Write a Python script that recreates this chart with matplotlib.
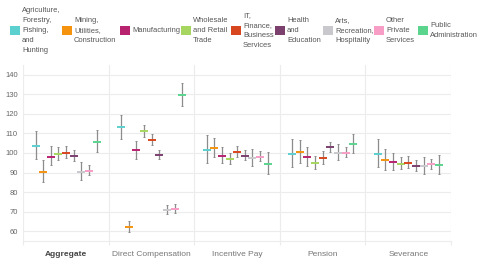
import matplotlib
matplotlib.use("Agg")
import matplotlib.pyplot as plt
from matplotlib.patches import Rectangle
import numpy as np

plt.rcParams['font.family'] = ['Liberation Sans', 'DejaVu Sans']

groups = ["Aggregate", "Direct Compensation", "Incentive Pay", "Pension", "Severance"]
series = ["Agriculture,\nForestry,\nFishing,\nand\nHunting",
          "Mining,\nUtilities,\nConstruction",
          "Manufacturing",
          "Wholesale\nand Retail\nTrade",
          "IT,\nFinance,\nBusiness\nServices",
          "Health\nand\nEducation",
          "Arts,\nRecreation,\nHospitality",
          "Other\nPrivate\nServices",
          "Public\nAdministration"]
colors = ["#5ccfcf", "#f5930f", "#b8236f", "#a6d65f", "#d8461f",
          "#7c406f", "#c9c9cd", "#f89dc6", "#5bd48e"]

# values[series][group]
values = [
    [103.6, 113.1, 101.7, 99.7, 99.7],
    [90.3, 62.1, 102.6, 100.4, 96.5],
    [98.2, 101.4, 98.7, 97.7, 95.3],
    [99.4, 111.1, 96.8, 94.8, 94.6],
    [99.9, 106.7, 100.5, 97.5, 95.1],
    [98.5, 98.8, 98.5, 102.9, 93.4],
    [90.5, 70.8, 97.3, 100.0, 93.2],
    [91.0, 71.5, 98.0, 100.2, 94.3],
    [105.6, 129.6, 94.4, 104.6, 93.7],
]
upper = [
    [111.3, 119.6, 109.0, 107.2, 107.2],
    [96.6, 65.2, 107.9, 106.5, 102.1],
    [103.4, 106.0, 103.1, 102.9, 100.1],
    [102.9, 114.5, 100.1, 98.5, 98.0],
    [103.6, 109.6, 103.8, 101.2, 98.5],
    [101.7, 101.7, 101.6, 105.8, 96.5],
    [95.3, 73.5, 102.1, 104.6, 98.0],
    [94.1, 73.7, 100.9, 103.1, 97.1],
    [111.6, 135.8, 100.4, 109.9, 99.2],
]
lower = [
    [97.0, 107.3, 94.9, 92.9, 92.9],
    [85.1, 59.7, 97.8, 94.8, 91.4],
    [93.9, 97.1, 94.8, 93.1, 91.2],
    [96.3, 108.2, 94.3, 91.9, 91.7],
    [97.3, 104.3, 97.8, 94.6, 92.2],
    [96.1, 97.0, 96.3, 100.7, 91.0],
    [86.4, 68.6, 93.1, 96.3, 89.1],
    [88.6, 69.4, 95.8, 97.8, 92.0],
    [100.4, 124.2, 89.3, 100.0, 89.0],
]
yticks = [60, 70, 80, 90, 100, 110, 120, 130, 140]

fig = plt.figure(figsize=(4.8, 2.7), dpi=100)
ax = fig.add_axes([0.0486, 0.1074, 0.891, 0.652])

grid_c = "#ececec"
x = np.arange(len(groups))
step = 0.0894
for j in range(len(series)):
    xs = x + (j - 4) * step
    v = np.array(values[j])
    lo = v - np.array(lower[j])
    hi = np.array(upper[j]) - v
    ax.errorbar(xs, v, yerr=[lo, hi], fmt='none', ecolor="#8c8c8c",
                elinewidth=0.9, capsize=0.8, capthick=0.7, zorder=3)
    ax.plot(xs, v, linestyle='none', marker='_', markersize=5.5,
            markeredgewidth=1.4, color=colors[j], zorder=4)

ax.set_xlim(-0.5, len(groups) - 0.5)
ax.set_ylim(55, 145)
ax.set_yticks(yticks)
ax.set_yticklabels([str(t) for t in yticks])
ax.tick_params(axis='y', length=0, labelsize=5.5, labelcolor="#666666", pad=4)
ax.set_xticks(x)
ax.set_xticklabels(groups)
ax.tick_params(axis='x', length=0, labelsize=6, labelcolor="#777777", pad=7)
ax.get_xticklabels()[0].set_fontweight('bold')
ax.get_xticklabels()[0].set_color('#444444')
ax.set_xticks(np.arange(-0.5, len(groups)), minor=True)
ax.tick_params(axis='x', which='minor', length=3, color=grid_c, width=0.8)
ax.grid(axis='y', color=grid_c, linewidth=0.8, zorder=0)
ax.grid(axis='x', which='minor', color=grid_c, linewidth=0.8, zorder=0)
ax.grid(axis='x', which='major', visible=False)
for s in ['top', 'left', 'right']:
    ax.spines[s].set_visible(False)
ax.spines['bottom'].set_color(grid_c)
ax.spines['bottom'].set_linewidth(0.8)
ax.set_axisbelow(True)

# legend
sq_x = [10, 62, 120, 181, 231, 275, 323, 374, 418]
sq = 9.5
cy = 30.5
W, H = 480, 270
for j in range(len(series)):
    fig.patches.append(Rectangle((sq_x[j] / W, 1 - (cy + sq / 2) / H), sq / W, sq / H,
                                 transform=fig.transFigure, facecolor=colors[j],
                                 edgecolor='none'))
    fig.text((sq_x[j] + sq + 2.5) / W, 1 - cy / H, series[j], fontsize=5.4,
             color="#555555", va='center', ha='left', linespacing=1.55)

fig.savefig("out.png", dpi=100)
